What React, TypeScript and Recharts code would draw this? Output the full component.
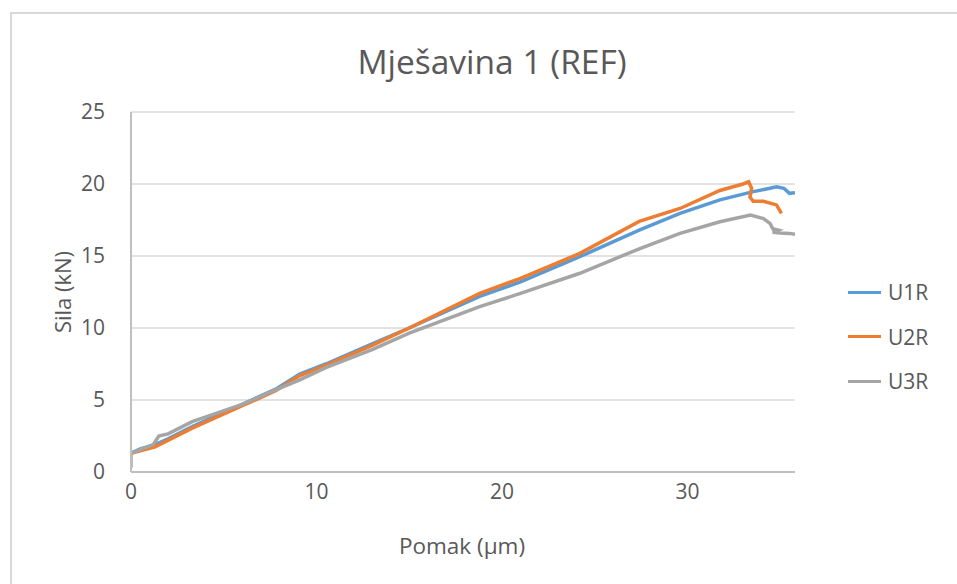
import { CartesianGrid, Line, LineChart, XAxis, YAxis } from 'recharts'

// [pomak (µm), sila (kN)]
const u1r: [number, number][] = [
  [0, 1.3], [0.5, 1.6], [1.3, 1.9], [2, 2.3], [3.3, 3.15], [6, 4.7], [7.8, 5.75],
  [9.1, 6.8], [10.5, 7.5], [13, 8.9], [15, 10.0], [18.8, 12.2], [21, 13.2],
  [24.2, 14.95], [27.4, 16.8], [29.6, 17.96], [31.75, 18.9], [33.55, 19.47],
  [34.45, 19.7], [34.8, 19.8], [35.2, 19.7], [35.5, 19.35], [35.8, 19.4],
]

const u2r: [number, number][] = [
  [0, 1.3], [1.3, 1.75], [3.3, 3.05], [6, 4.6], [7.8, 5.65], [9.1, 6.7], [10.5, 7.4],
  [13, 8.8], [15, 10.0], [18.8, 12.4], [21, 13.45], [24.2, 15.18], [27.4, 17.4],
  [29.6, 18.3], [31.75, 19.55], [33.0, 20.0], [33.3, 20.15], [33.46, 19.7],
  [33.37, 19.1], [33.55, 18.8], [34.1, 18.8], [34.8, 18.55], [35.07, 17.96],
]

const u3r: [number, number][] = [
  [0, 0.3], [0, 1.3], [0.6, 1.6], [1.2, 1.9], [1.5, 2.5], [2, 2.65], [3.3, 3.5],
  [6, 4.7], [7.8, 5.7], [9.1, 6.4], [10.5, 7.25], [13, 8.5], [15, 9.64],
  [18.8, 11.48], [21, 12.4], [24.2, 13.8], [27.4, 15.5], [29.6, 16.57],
  [31.75, 17.38], [33.4, 17.85], [34.1, 17.6], [34.45, 17.27], [34.6, 16.9],
  [34.9, 16.8], [34.6, 16.65], [35.0, 16.6], [35.5, 16.57], [35.8, 16.5],
]

const xTicks = [0, 10, 20, 30]
const yTicks = [0, 5, 10, 15, 20, 25]

const series = [
  { name: 'U1R', data: u1r, color: '#5b9bd5' },
  { name: 'U2R', data: u2r, color: '#ed7d31' },
  { name: 'U3R', data: u3r, color: '#a5a5a5' },
]

const toRows = (pts: [number, number][]) => pts.map(([x, y]) => ({ x, y }))

const FONT = '"Open Sans", sans-serif'
const TEXT = '#595959'

function YTitle({ viewBox }: any) {
  const cx = viewBox.x + 11
  const cy = viewBox.y + viewBox.height / 2
  return (
    <text
      x={cx}
      y={cy}
      transform={`rotate(-90, ${cx}, ${cy})`}
      textAnchor="middle"
      dominantBaseline="central"
      fill={TEXT}
      fontSize={22}
      fontFamily={FONT}
    >
      Sila (kN)
    </text>
  )
}

function XTitle({ viewBox }: any) {
  return (
    <text
      x={viewBox.x + viewBox.width / 2 - 1}
      y={545}
      textAnchor="middle"
      dominantBaseline="central"
      fill={TEXT}
      fontSize={22.5}
      fontFamily={FONT}
    >
      Pomak (µm)
    </text>
  )
}

function LegendBox() {
  return (
    <div
      style={{
        position: 'absolute',
        left: 848,
        top: 270,
        fontFamily: FONT,
        fontSize: 21,
        color: TEXT,
      }}
    >
      {series.map((s) => (
        <div key={s.name} style={{ display: 'flex', alignItems: 'center', height: 44.5 }}>
          <span
            style={{
              display: 'inline-block',
              width: 33,
              height: 3,
              background: s.color,
              marginRight: 7,
            }}
          />
          {s.name}
        </div>
      ))}
    </div>
  )
}

export default function App() {
  return (
    <div
      style={{
        position: 'absolute',
        left: 0,
        top: 0,
        width: 957,
        height: 584,
        background: '#fff',
        overflow: 'hidden',
      }}
    >
      <div
        style={{
          position: 'absolute',
          left: 10,
          top: 12,
          width: 1000,
          height: 700,
          borderLeft: '2px solid #d9d9d9',
          borderTop: '2px solid #d9d9d9',
        }}
      />
      <div
        style={{
          position: 'absolute',
          top: 38,
          left: 0,
          width: 984,
          textAlign: 'center',
          fontFamily: FONT,
          fontSize: 33.5,
          color: TEXT,
        }}
      >
        Mješavina 1 (REF)
      </div>
      <LineChart
        width={957}
        height={584}
        margin={{ top: 112, right: 162, bottom: 82, left: 51 }}
        style={{ position: 'absolute', left: 0, top: 0 }}
      >
        <CartesianGrid vertical={false} stroke="#d9d9d9" strokeWidth={1.5} />
        <XAxis
          type="number"
          dataKey="x"
          domain={[0, 35.8]}
          ticks={xTicks}
          allowDataOverflow
          height={30}
          stroke="#bfbfbf"
          strokeWidth={2}
          tickLine={false}
          tick={{ fill: TEXT, fontSize: 21, fontFamily: FONT }}
          tickMargin={6}
          label={<XTitle />}
        />
        <YAxis
          type="number"
          domain={[0, 25]}
          ticks={yTicks}
          width={80}
          stroke="#bfbfbf"
          strokeWidth={2}
          tickLine={false}
          tick={{ fill: TEXT, fontSize: 21, fontFamily: FONT }}
          tickMargin={20}
          label={<YTitle />}
        />
        {series.map((s) => (
          <Line
            key={s.name}
            name={s.name}
            data={toRows(s.data)}
            dataKey="y"
            type="linear"
            stroke={s.color}
            strokeWidth={3.5}
            dot={false}
            isAnimationActive={false}
          />
        ))}
      </LineChart>
      <LegendBox />
    </div>
  )
}
